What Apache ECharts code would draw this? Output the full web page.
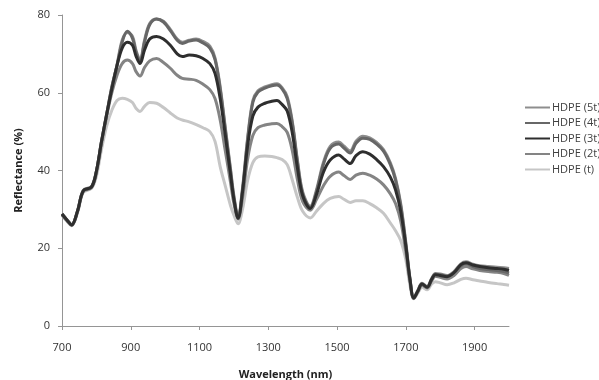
<!DOCTYPE html>
<html>
<head>
<meta charset="utf-8">
<script src="https://cdn.jsdelivr.net/npm/echarts@6/dist/echarts.min.js"></script>
<style>html,body{margin:0;padding:0;background:#fff}#c{width:599px;height:380px}</style>
</head>
<body>
<div id="c"></div>
<script>
const wavelengths = [700,715,728,745,762,786,800,815,830,845,860,875,890,905,915,927,940,955,975,995,1015,1035,1050,1070,1090,1110,1130,1145,1160,1175,1190,1200,1212,1225,1240,1255,1270,1290,1310,1325,1340,1355,1370,1385,1400,1422,1440,1460,1480,1505,1520,1538,1555,1575,1595,1615,1635,1655,1670,1685,1700,1712,1723,1735,1747,1762,1775,1786,1800,1820,1840,1860,1875,1895,1915,1940,1965,1985,2000];

const hdpe5t = [28.9,27.3,26.1,29.6,34.9,35.9,39.8,47.5,54.5,61.5,67.2,73.5,75.5,74.5,71,68.5,73.5,77.8,79,78.4,76.3,73.8,73,73.5,73.8,73.2,72,69,61.5,51,40.5,33.5,28.2,35.5,48.5,58,60.5,61.5,62.1,62.3,61.3,59,52.5,42.5,34.5,30.8,35,42,46.2,47.3,46.3,45,47.5,48.8,48.4,47.2,45.4,42,38,31.5,21.5,12.3,7.3,9.2,11,10.2,12.2,13.5,13.4,13,14,16,16.5,15.9,15.5,15.3,15.1,15,14.8];
const hdpe4t = [28.8,27.2,26.0,29.5,34.8,35.8,39.8,47.5,54.5,61.5,67,73,75.8,74,70.5,68,73,77.5,79,78.2,76,73.5,72.7,73.3,73.6,72.8,71.5,68.5,61,50.5,40,33,27.8,35,48,57.5,60.2,61.2,61.8,62,61,58.5,52,42,34,30.5,34.5,41.5,45.7,46.8,45.8,44.5,47,48.3,48,46.8,45,41.5,37.5,31,21,12,7.2,9,10.8,10,12,13.3,13.2,12.8,13.8,15.5,16,15.3,14.8,14.5,14.3,14,13.6];
const hdpe3t = [28.8,27.2,26.0,29.5,34.8,35.8,39.8,47.5,54.5,61,67,71.5,73,72.2,69.5,67.5,71,73.8,74.5,73.8,72.2,70,69.3,69.7,69.5,68.8,67.5,65,58.5,49,39,32.5,27.7,34.5,46.5,54,56.3,57.3,57.8,58,57,55.3,49.5,40.5,33.5,30.2,33.8,39.5,42.7,44,43,41.8,43.8,44.8,44.2,42.8,41,38.3,35,29.5,20.5,12,7.2,9,10.8,10,12,13.2,13,12.7,13.7,15.8,16.3,15.7,15.3,15,14.8,14.6,14.3];
const hdpe2t = [28.6,27.0,25.9,29.3,34.6,35.6,39.5,47,54,60,64.5,67.5,68.4,67.5,65.5,64.3,66.5,68.2,68.8,67.8,66.3,64.5,63.7,63.5,63.2,62.2,60.8,58.5,53,45,37,31.5,27.5,33,43,49,51,51.7,52,52.1,51.3,49.8,45,37.5,32,29.8,32.5,36,38.5,39.6,38.7,37.7,38.8,39.3,38.8,37.8,36.3,34,31.5,27,19,11.5,7.1,8.8,10.5,9.8,11.6,12.8,12.5,12.1,13,14.8,15.3,14.7,14.3,14,13.8,13.5,13];
const hdpet = [28.5,26.9,25.8,29.1,34.4,35.4,38.5,45.5,51.5,55.5,58,58.6,58.3,57.5,56,55.2,56.5,57.5,57.3,56.2,54.8,53.5,53,52.5,51.8,51,50,47.5,41,36,31,28.5,26.3,30,37.5,42,43.5,43.7,43.6,43.3,42.8,41.5,37.5,33,29.5,27.8,29.5,31.5,32.8,33.3,32.6,31.8,32.2,32.2,31.5,30.4,29,26.5,24.5,22,17,10.5,7,8.5,10,9.3,10.8,11.4,11.1,10.6,11.1,12,12.3,11.9,11.6,11.2,10.9,10.7,10.5];

const seriesNames = ['HDPE (5t)','HDPE (4t)','HDPE (3t)','HDPE (2t)','HDPE (t)'];
const seriesValues = [hdpe5t, hdpe4t, hdpe3t, hdpe2t, hdpet];
const seriesColors = ['#8e8e8e','#676767','#2e2e2e','#848484','#c6c6c6'];
const xTickLabels = [700,900,1100,1300,1500,1700,1900];
const yTickLabels = [0,20,40,60,80];

const font = '"Open Sans", "DejaVu Sans", sans-serif';
const chart = echarts.init(document.getElementById('c'), null, {renderer:'canvas'});
chart.setOption({
  animation: false,
  backgroundColor: '#fff',
  grid: {left: 62, right: 90, top: 15, bottom: 54, containLabel: false, outerBoundsMode: 'none'},
  legend: {
    orient: 'vertical', left: 520, top: 97,
    itemWidth: 25, itemHeight: 10, itemGap: 4.5,
    icon: 'path://M0,4 L25,4 L25,6 L0,6 Z',
    textStyle: {fontFamily: font, fontSize: 11, color: '#404040', padding: [0,0,0,-3]},
    data: seriesNames
  },
  xAxis: {
    type: 'value', min: 700, max: 2000,
    name: 'Wavelength (nm)', nameLocation: 'middle', nameGap: 43,
    nameTextStyle: {fontFamily: font, fontSize: 11, fontWeight: 'bold', color: '#222'},
    axisLine: {onZero: false, lineStyle: {color: '#959595', width: 1}},
    axisTick: {show: true, length: 4, customValues: xTickLabels, lineStyle: {color: '#959595'}},
    axisLabel: {customValues: xTickLabels, margin: 16, fontFamily: font, fontSize: 11, color: '#333',
      formatter: v => String(v)},
    splitLine: {show: false}
  },
  yAxis: {
    type: 'value', min: 0, max: 80, interval: 20,
    name: 'Reflectance (%)', nameLocation: 'middle', nameGap: 38, nameRotate: 90,
    nameTextStyle: {fontFamily: font, fontSize: 11, fontWeight: 'bold', color: '#222'},
    axisLine: {show: true, lineStyle: {color: '#959595', width: 1}},
    axisTick: {show: true, length: 4, lineStyle: {color: '#959595'}},
    axisLabel: {margin: 12, fontFamily: font, fontSize: 11, color: '#333',
      formatter: v => yTickLabels.includes(v) ? String(v) : ''},
    splitLine: {show: false}
  },
  series: seriesNames.map((n, i) => ({
    name: n, type: 'line', symbol: 'none', smooth: 0.35,
    color: seriesColors[i],
    lineStyle: {width: 3, color: seriesColors[i]},
    data: wavelengths.map((w, j) => [w, seriesValues[i][j]]),
    z: [1,3,4,2,0][i]
  }))
});
</script>
</body>
</html>
